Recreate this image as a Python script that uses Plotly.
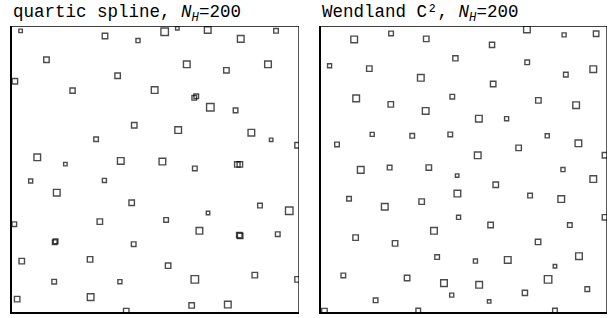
import plotly.graph_objects as go

# ---- data (box coordinates in [0,1], h = smoothing length / square side) ----
titles = ["quartic spline, <i>N</i><sub><i>H</i></sub>=200",
          "Wendland C\u00b2, <i>N</i><sub><i>H</i></sub>=200"]

quartic_x = [0.030, 0.324, 0.439, 0.120, 0.368, 0.010, 0.211, 0.497, 0.426, 0.293,
             0.088, 0.186, 0.379, 0.532, 0.576, 0.682, 0.797, 0.920, 0.609, 0.747,
             0.892, 0.635, 0.642, 0.691, 0.779, 0.579, 0.834, 0.903, 0.995, 0.524,
             0.637, 0.785, 0.794, 0.065, 0.322, 0.156, 0.417, 0.008, 0.306, 0.149,
             0.152, 0.424, 0.034, 0.272, 0.147, 0.376, 0.018, 0.274, 0.398, 0.864,
             0.966, 0.537, 0.683, 0.653, 0.792, 0.795, 0.926, 0.544, 0.637, 0.846,
             0.995, 0.626, 0.752]
quartic_y = [0.983, 0.965, 0.949, 0.882, 0.826, 0.807, 0.774, 0.776, 0.653, 0.604,
             0.541, 0.517, 0.528, 0.980, 0.992, 0.986, 0.955, 0.983, 0.866, 0.845,
             0.866, 0.749, 0.754, 0.716, 0.705, 0.636, 0.627, 0.602, 0.583, 0.526,
             0.502, 0.516, 0.516, 0.458, 0.460, 0.417, 0.382, 0.307, 0.316, 0.244,
             0.247, 0.237, 0.178, 0.184, 0.106, 0.106, 0.045, 0.052, 0.003, 0.372,
             0.354, 0.322, 0.346, 0.284, 0.269, 0.266, 0.272, 0.162, 0.114, 0.129,
             0.114, 0.023, 0.026]
quartic_h = [0.017, 0.024, 0.019, 0.024, 0.024, 0.024, 0.023, 0.028, 0.024, 0.021,
             0.028, 0.017, 0.028, 0.031, 0.017, 0.028, 0.028, 0.021, 0.028, 0.024,
             0.028, 0.021, 0.021, 0.031, 0.021, 0.028, 0.028, 0.017, 0.024, 0.028,
             0.021, 0.024, 0.024, 0.019, 0.019, 0.028, 0.024, 0.021, 0.024, 0.021,
             0.021, 0.021, 0.024, 0.024, 0.021, 0.019, 0.024, 0.028, 0.024, 0.021,
             0.031, 0.021, 0.017, 0.028, 0.024, 0.024, 0.021, 0.024, 0.031, 0.024,
             0.024, 0.024, 0.028]

wendland_x = [0.116, 0.245, 0.368, 0.030, 0.169, 0.349, 0.470, 0.123, 0.244, 0.366,
              0.459, 0.179, 0.319, 0.452, 0.056, 0.139, 0.240, 0.377, 0.476, 0.098,
              0.223, 0.352, 0.477, 0.481, 0.121, 0.259, 0.395, 0.406, 0.078, 0.301,
              0.430, 0.457, 0.191, 0.012, 0.340, 0.720, 0.850, 0.962, 0.598, 0.721,
              0.856, 0.952, 0.602, 0.760, 0.892, 0.552, 0.649, 0.791, 0.900, 0.691,
              0.548, 0.993, 0.846, 0.952, 0.611, 0.731, 0.840, 0.593, 0.870, 0.993,
              0.759, 0.540, 0.653, 0.902, 0.818, 0.553, 0.794, 0.931, 0.713, 0.588,
              0.818]
wendland_y = [0.953, 0.974, 0.955, 0.861, 0.851, 0.819, 0.887, 0.747, 0.726, 0.703,
              0.753, 0.621, 0.616, 0.621, 0.586, 0.497, 0.505, 0.505, 0.477, 0.396,
              0.368, 0.386, 0.414, 0.331, 0.260, 0.240, 0.284, 0.192, 0.128, 0.119,
              0.101, 0.059, 0.041, 0.003, 0.005, 0.988, 0.969, 0.973, 0.934, 0.873,
              0.830, 0.849, 0.797, 0.740, 0.723, 0.676, 0.676, 0.616, 0.590, 0.574,
              0.548, 0.548, 0.498, 0.465, 0.445, 0.407, 0.395, 0.304, 0.304, 0.331,
              0.245, 0.178, 0.182, 0.195, 0.160, 0.095, 0.114, 0.080, 0.067, 0.037,
              0.005]
wendland_h = [0.028, 0.021, 0.024, 0.019, 0.024, 0.028, 0.023, 0.028, 0.024, 0.028,
              0.021, 0.019, 0.021, 0.021, 0.021, 0.028, 0.021, 0.024, 0.017, 0.021,
              0.028, 0.024, 0.028, 0.019, 0.024, 0.024, 0.028, 0.021, 0.021, 0.024,
              0.028, 0.019, 0.021, 0.024, 0.021, 0.028, 0.019, 0.024, 0.023, 0.021,
              0.021, 0.028, 0.024, 0.024, 0.028, 0.028, 0.019, 0.019, 0.028, 0.024,
              0.028, 0.024, 0.019, 0.028, 0.024, 0.021, 0.028, 0.024, 0.021, 0.024,
              0.024, 0.019, 0.028, 0.028, 0.017, 0.028, 0.031, 0.021, 0.023, 0.017,
              0.021]

# ---- layout geometry ----
W, H = 611, 318
x_domains = [(12 / W, 299 / W), (321 / W, 607 / W)]
y_domain = ((H - 312) / H, (H - 26) / H)
panel_px = 287
stroke = 1.4

fig = go.Figure()
series = [(quartic_x, quartic_y, quartic_h), (wendland_x, wendland_y, wendland_h)]
for i, (xs, ys, hs) in enumerate(series):
    sfx = "" if i == 0 else str(i + 1)
    fig.add_trace(go.Scatter(
        x=xs, y=ys, mode="markers",
        xaxis="x" + sfx, yaxis="y" + sfx,
        cliponaxis=True,
        marker=dict(symbol="square-open",
                    size=[h * panel_px - stroke for h in hs],
                    color="black",
                    line=dict(width=stroke, color="black")),
        hoverinfo="skip", showlegend=False))

axis_common = dict(range=[0, 1], showgrid=False, zeroline=False, showticklabels=False,
                   ticks="", showline=True, linewidth=2, linecolor="black", fixedrange=True)

layout = dict(width=W, height=H, margin=dict(l=0, r=0, t=0, b=0),
              paper_bgcolor="white", plot_bgcolor="white", showlegend=False)
for i in range(2):
    sfx = "" if i == 0 else str(i + 1)
    layout["xaxis" + sfx] = dict(axis_common, domain=list(x_domains[i]),
                                 anchor="y" + sfx)
    layout["yaxis" + sfx] = dict(axis_common, domain=list(y_domain),
                                 anchor="x" + sfx)
fig.update_layout(**layout)

shapes = []
annotations = []
for i in range(2):
    sfx = "" if i == 0 else str(i + 1)
    shapes.append(dict(type="line", xref="x" + sfx, yref="y" + sfx,
                       x0=0, x1=1, y0=1, y1=1, line=dict(color="black", width=1.3)))
    shapes.append(dict(type="line", xref="x" + sfx, yref="y" + sfx,
                       x0=1, x1=1, y0=0, y1=1, line=dict(color="black", width=1.3)))
    annotations.append(dict(text=titles[i], xref="paper", yref="paper",
                            x=x_domains[i][0] - 1 / W, y=1.0,
                            xanchor="left", yanchor="top", showarrow=False,
                            font=dict(family="Liberation Mono", size=17.5, color="black")))
fig.update_layout(shapes=shapes, annotations=annotations)

fig.write_html("out.html", config={"displayModeBar": False},
               post_script="document.body.style.margin='0';document.body.style.overflow='hidden';")
